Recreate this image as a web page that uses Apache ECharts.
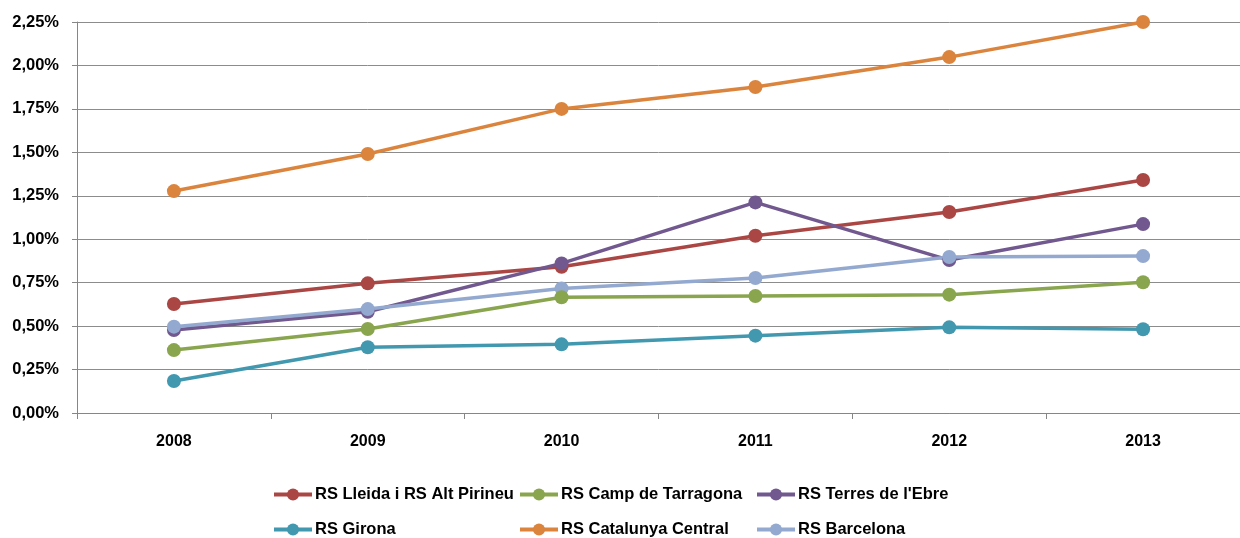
<!DOCTYPE html>
<html><head><meta charset="utf-8">
<script src="https://cdn.jsdelivr.net/npm/echarts@6/dist/echarts.min.js"></script>
<style>html,body{margin:0;padding:0;background:#fff}#c{width:1240px;height:538px}</style>
</head><body><div id="c"></div>
<script>
const years = ['2008','2009','2010','2011','2012','2013'];
const names = ['RS Lleida i RS Alt Pirineu','RS Camp de Tarragona',"RS Terres de l'Ebre",'RS Girona','RS Catalunya Central','RS Barcelona'];
const lleida = [0.627,0.746,0.842,1.020,1.157,1.341];
const camp = [0.362,0.483,0.666,0.673,0.681,0.752];
const terres = [0.478,0.583,0.861,1.212,0.880,1.087];
const girona = [0.184,0.378,0.395,0.445,0.493,0.482];
const catalunya = [1.277,1.490,1.750,1.876,2.048,2.250];
const barcelona = [0.497,0.598,0.717,0.777,0.898,0.903];
const colors = ['#AA4643','#89A54E','#71588F','#4198AF','#DB843D','#93A9CF'];
const values = [lleida,camp,terres,girona,catalunya,barcelona];
const order = [4,0,2,5,1,3];
const font = '"Liberation Sans",sans-serif';
const legendPos = [[272,486],[518,486],[755,486],[272,521],[518,521],[755,521]];
const chart = echarts.init(document.getElementById('c'));
chart.setOption({
  animation:false,
  color: colors,
  grid:{left:77,top:22,right:-9,bottom:125,containLabel:false},
  legend: names.map((n,i)=>({
    data:[n], left:legendPos[i][0], top:legendPos[i][1], padding:0, itemWidth:38, itemHeight:15, itemGap:4,
    lineStyle:{width:4},
    textStyle:{fontFamily:font,fontWeight:'bold',fontSize:16.5,color:'#000',padding:[0,0,0,-2]}
  })),
  xAxis:{type:'category',data:years,boundaryGap:true,
    axisLine:{lineStyle:{color:'#868686',width:1}},
    axisTick:{show:true,length:6,lineStyle:{color:'#868686'}},
    axisLabel:{fontFamily:font,fontWeight:'bold',fontSize:16,color:'#000',margin:21}},
  yAxis:{type:'value',min:0,max:2.25,interval:0.25,
    axisLine:{show:true,lineStyle:{color:'#868686',width:1}},
    axisTick:{show:true,length:5,lineStyle:{color:'#868686'}},
    splitLine:{lineStyle:{color:'#8C8C8C',width:1}},
    axisLabel:{fontFamily:font,fontWeight:'bold',fontSize:16.5,color:'#000',margin:18,
      formatter:v=>v.toFixed(2).replace('.',',')+'%'}},
  series: order.map(i=>({
    name:names[i], type:'line', data:values[i], symbol:'circle', symbolSize:14,
    lineStyle:{width:3.5,color:colors[i]}, itemStyle:{color:colors[i]}, z:2
  }))
});
</script></body></html>
